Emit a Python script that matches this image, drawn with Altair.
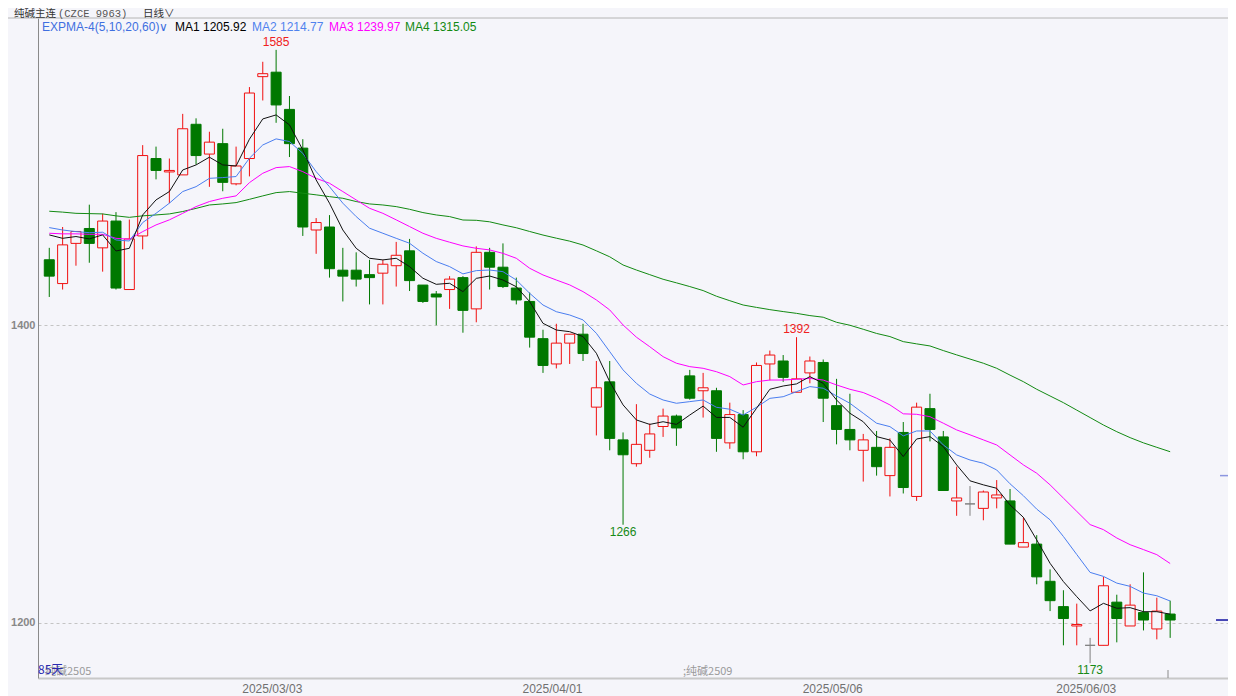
import altair as alt
import pandas as pd

# ---------------- data ----------------
opens = [1444, 1428, 1455, 1465, 1452, 1470, 1424, 1460, 1512, 1503,
         1501, 1535, 1515, 1522, 1495, 1512, 1567, 1570, 1545, 1519,
         1464, 1466, 1437, 1437, 1434, 1435, 1440, 1450, 1427, 1421,
         1424, 1432, 1411, 1449, 1439, 1425, 1416, 1391, 1374, 1388,
         1394, 1345, 1362, 1323, 1307, 1316, 1332, 1339, 1366, 1356,
         1356, 1321, 1340, 1315, 1374, 1376, 1355, 1368, 1375, 1346,
         1330, 1316, 1318, 1299, 1328, 1285, 1344, 1325, 1282, 1280,
         1277, 1284, 1282, 1251, 1253, 1228, 1211, 1198, 1185, 1185,
         1214, 1198, 1207, 1196, 1206]
highs = [1452, 1466, 1463, 1481, 1475, 1476, 1471, 1521, 1520, 1512,
         1542, 1539, 1530, 1532, 1520, 1560, 1577, 1585, 1554, 1525,
         1472, 1474, 1452, 1449, 1444, 1444, 1456, 1458, 1427, 1423,
         1433, 1433, 1453, 1452, 1455, 1432, 1422, 1397, 1401, 1394,
         1401, 1376, 1376, 1328, 1347, 1334, 1344, 1340, 1370, 1368,
         1358, 1348, 1343, 1375, 1383, 1380, 1392, 1379, 1377, 1364,
         1354, 1327, 1329, 1324, 1335, 1348, 1354, 1329, 1305, 1292,
         1289, 1296, 1290, 1271, 1259, 1236, 1222, 1213, 1190, 1231,
         1219, 1226, 1234, 1217, 1215]
lows = [1419, 1424, 1440, 1442, 1436, 1424, 1424, 1451, 1498, 1482,
        1501, 1508, 1493, 1490, 1494, 1500, 1551, 1536, 1513, 1460,
        1448, 1432, 1416, 1426, 1414, 1414, 1426, 1423, 1415, 1400,
        1411, 1395, 1402, 1424, 1425, 1414, 1385, 1368, 1371, 1374,
        1376, 1326, 1316, 1266, 1305, 1311, 1325, 1319, 1350, 1338,
        1315, 1317, 1310, 1312, 1363, 1362, 1355, 1361, 1335, 1320,
        1316, 1295, 1299, 1285, 1287, 1282, 1322, 1289, 1272, 1272,
        1269, 1277, 1253, 1251, 1226, 1208, 1185, 1185, 1173, 1185,
        1187, 1198, 1195, 1189, 1190]
closes = [1433, 1454, 1463, 1455, 1470, 1425, 1458, 1514, 1504, 1504,
          1532, 1514, 1523, 1496, 1507, 1556, 1569, 1548, 1522, 1466,
          1469, 1438, 1433, 1431, 1432, 1441, 1447, 1430, 1416, 1419,
          1431, 1410, 1449, 1439, 1426, 1417, 1392, 1373, 1388, 1394,
          1381, 1358, 1324, 1313, 1320, 1327, 1339, 1331, 1351, 1358,
          1324, 1340, 1315, 1373, 1380, 1365, 1364, 1376, 1351, 1330,
          1323, 1323, 1305, 1318, 1291, 1345, 1330, 1289, 1284, 1280,
          1288, 1286, 1253, 1254, 1231, 1215, 1203, 1199, 1185, 1225,
          1203, 1212, 1202, 1208, 1202]

ma1 = [1460.7, 1458.4, 1459.6, 1458.0, 1460.7, 1449.9, 1451.7, 1474.1, 1484.2, 1489.8,
       1504.3, 1507.7, 1512.9, 1507.7, 1507.0, 1525.0, 1538.6, 1541.3, 1534.6, 1517.8,
       1497.6, 1482.0, 1464.0, 1451.7, 1445.0, 1443.9, 1445.0, 1439.4, 1431.6, 1427.5,
       1428.2, 1422.6, 1431.5, 1433.1, 1430.4, 1425.9, 1415.9, 1401.3, 1396.8, 1395.7,
       1392.4, 1381.2, 1362.1, 1346.5, 1336.4, 1333.4, 1335.2, 1333.4, 1339.7, 1345.7,
       1338.1, 1338.1, 1331.5, 1344.2, 1357.0, 1359.2, 1360.6, 1365.5, 1361.0, 1349.8,
       1340.9, 1335.2, 1325.2, 1322.9, 1311.8, 1323.6, 1325.2, 1318.5, 1306.2, 1295.5,
       1292.8, 1290.5, 1279.3, 1271.0, 1255.8, 1240.1, 1227.8, 1217.7, 1208.1, 1213.2,
       1209.9, 1210.3, 1207.6, 1207.6, 1205.92]
ma2 = [1465.6, 1464.0, 1462.9, 1462.2, 1462.5, 1457.3, 1456.6, 1469.0, 1475.2, 1482.0,
       1489.8, 1493.1, 1498.7, 1499.2, 1499.9, 1512.2, 1521.1, 1525.2, 1523.4, 1515.5,
       1503.2, 1493.1, 1482.0, 1473.0, 1465.2, 1461.8, 1458.4, 1455.1, 1448.4, 1442.8,
       1439.4, 1434.5, 1436.7, 1437.1, 1436.0, 1430.4, 1421.5, 1413.6, 1409.1, 1406.9,
       1403.6, 1394.6, 1382.3, 1370.0, 1361.0, 1353.8, 1349.8, 1347.6, 1348.7, 1349.8,
       1344.9, 1343.6, 1339.7, 1344.9, 1350.9, 1352.0, 1355.4, 1358.8, 1357.7, 1352.5,
       1347.6, 1340.9, 1334.2, 1331.9, 1325.7, 1329.0, 1329.0, 1319.6, 1312.9, 1309.5,
       1307.3, 1302.8, 1293.5, 1285.5, 1276.5, 1269.3, 1258.1, 1246.0, 1234.0, 1231.3,
       1226.8, 1224.6, 1220.1, 1218.3, 1214.77]
ma3 = [1461.8, 1461.4, 1461.4, 1461.1, 1461.1, 1458.4, 1457.8, 1462.9, 1467.4, 1470.8,
       1475.2, 1479.7, 1483.1, 1485.3, 1486.9, 1495.8, 1502.1, 1505.9, 1506.6, 1503.2,
       1498.7, 1495.4, 1489.8, 1484.2, 1478.6, 1475.2, 1470.8, 1466.3, 1461.8, 1458.4,
       1455.8, 1453.3, 1451.7, 1450.6, 1448.3, 1445.0, 1438.3, 1433.8, 1430.4, 1427.1,
       1422.6, 1417.0, 1410.3, 1400.2, 1392.0, 1385.6, 1378.9, 1374.5, 1372.2, 1371.1,
       1368.8, 1365.5, 1359.9, 1362.1, 1363.2, 1363.2, 1363.7, 1364.3, 1363.2, 1359.9,
       1357.0, 1354.8, 1351.0, 1346.5, 1340.5, 1340.2, 1338.6, 1334.2, 1329.7, 1326.4,
       1323.0, 1319.6, 1312.9, 1306.2, 1300.6, 1292.8, 1283.9, 1275.0, 1266.1, 1262.7,
       1257.1, 1252.6, 1249.3, 1245.9, 1239.97]
ma4 = [1476.6, 1476.0, 1475.2, 1475.0, 1474.8, 1473.5, 1472.5, 1473.5, 1474.1, 1474.8,
       1476.4, 1478.5, 1480.8, 1481.5, 1482.4, 1484.6, 1486.9, 1489.1, 1489.8, 1488.7,
       1487.6, 1486.4, 1485.3, 1483.1, 1481.5, 1480.8, 1479.7, 1477.9, 1475.7, 1474.1,
       1473.0, 1470.7, 1470.5, 1469.5, 1467.4, 1465.5, 1463.0, 1460.6, 1458.5, 1456.5,
       1453.9, 1450.0, 1446.0, 1440.5, 1437.1, 1434.0, 1430.9, 1428.5, 1426.0, 1423.3,
       1419.5, 1416.5, 1413.6, 1412.0, 1410.5, 1409.2, 1408.0, 1406.5, 1405.4, 1402.0,
       1400.0, 1397.3, 1394.5, 1392.4, 1389.0, 1387.5, 1386.1, 1383.0, 1380.1, 1377.3,
       1374.5, 1371.1, 1366.5, 1362.1, 1357.0, 1352.5, 1348.0, 1343.0, 1338.0, 1333.0,
       1328.5, 1324.5, 1321.0, 1318.0, 1315.05]

date_ticks = [16, 37, 58, 77]
date_labels = ["2025/03/03", "2025/04/01", "2025/05/06", "2025/06/03"]
y_ticks = [1200, 1400]

ann_idx = [17, 56, 43, 78]
ann_val = [1585, 1392, 1266, 1173]
ann_kind = ["high", "high", "low", "low"]

marker_val = [1299]

# ---------------- styling ----------------
BG = "#f5f5fa"
RED = "#f01010"
GREEN = "#007800"
DOJI = "#808080"
C_MA1, C_MA2, C_MA3, C_MA4 = "#101010", "#4a7ef0", "#ff00ff", "#128a12"
FONT = "Liberation Sans"
CJK = "Noto Sans CJK SC"

W, H = 1190, 660
XDOM = [-0.47, 87.96]
YDOM = [1163.05, 1606.4]

xs = alt.Scale(domain=XDOM, nice=False, zero=False)
ys = alt.Scale(domain=YDOM, nice=False, zero=False)

n = len(opens)
df = pd.DataFrame({"i": list(range(n)), "open": opens, "high": highs,
                   "low": lows, "close": closes})
df["dir"] = ["up" if c > o else ("down" if c < o else "flat")
             for o, c in zip(opens, closes)]

dir_dom = ["up", "down", "flat"]

label_expr = " : ".join(
    f"datum.value == {t} ? '{l}'" for t, l in zip(date_ticks, date_labels)
) + " : ''"

x_axis = alt.Axis(values=date_ticks, labelExpr=label_expr, ticks=False, grid=False,
                  domainColor="#c8c8c8", domainWidth=2, labelColor="#707070",
                  labelFontSize=12, labelFont=FONT, labelPadding=5, labelOffset=9,
                  title=None, labelFlush=False)
y_axis = alt.Axis(values=y_ticks, format="d", ticks=False, grid=True, gridDash=[3, 3],
                  gridColor="#c4c4c4", domainColor="#8a8a8a", labelColor="#888888",
                  labelFontSize=11, labelFont=FONT, labelFontWeight="bold",
                  labelPadding=3, title=None)


def X(field="i"):
    return alt.X(f"{field}:Q", scale=xs, axis=x_axis)


def Y(field):
    return alt.Y(f"{field}:Q", scale=ys, axis=y_axis)


base = alt.Chart(df)

wicks = base.mark_rule(strokeWidth=1).encode(
    x=X(), y=Y("low"), y2="high:Q",
    color=alt.Color("dir:N", scale=alt.Scale(domain=dir_dom, range=[RED, GREEN, DOJI]),
                    legend=None),
)

bodies = base.mark_bar(size=10, strokeWidth=1).encode(
    x=X(), y=Y("open"), y2="close:Q",
    fill=alt.Fill("dir:N", scale=alt.Scale(domain=dir_dom, range=[BG, GREEN, DOJI]),
                  legend=None),
    stroke=alt.Stroke("dir:N", scale=alt.Scale(domain=dir_dom, range=[RED, GREEN, DOJI]),
                      legend=None),
)


def ma_line(values, color):
    d = pd.DataFrame({"i": list(range(len(values))), "v": values})
    return alt.Chart(d).mark_line(strokeWidth=1, color=color).encode(x=X(), y=Y("v"))


lines = [ma_line(ma4, C_MA4), ma_line(ma3, C_MA3), ma_line(ma2, C_MA2), ma_line(ma1, C_MA1)]

ann = pd.DataFrame({"i": ann_idx, "v": ann_val, "k": ann_kind,
                    "t": [str(v) for v in ann_val]})
ann_hi = alt.Chart(ann).transform_filter("datum.k == 'high'").mark_text(
    baseline="bottom", dy=-1, color="#f02020", fontSize=12, font=FONT).encode(
    x=X(), y=Y("v"), text="t:N")
ann_lo = alt.Chart(ann).transform_filter("datum.k == 'low'").mark_text(
    baseline="top", dy=2, color="#168a16", fontSize=12, font=FONT).encode(
    x=X(), y=Y("v"), text="t:N")


def label(text, x, y, color, size=12, font=FONT, align="left", baseline="middle"):
    return alt.Chart(pd.DataFrame({"t": [text]})).mark_text(
        align=align, baseline=baseline, color=color, fontSize=size, font=font
    ).encode(text="t:N", x=alt.value(x), y=alt.value(y))


def rule(x1, x2, y1, y2, color, width=1):
    return alt.Chart(pd.DataFrame({"a": [0]})).mark_rule(color=color, strokeWidth=width).encode(
        x=alt.value(x1), x2=alt.value(x2), y=alt.value(y1), y2=alt.value(y2))


decor = [
    rule(-30, W, 0, 0, "#b4b4b4"),
    label("纯碱主连", -24, -4, "#333333", size=10.5, font=CJK),
    label("(CZCE 9963)", 20, -4, "#555555", size=10.5, font="Liberation Mono"),
    label("日线∨", 105, -4, "#333333", size=10.5, font=CJK),
    label("EXPMA-4(5,10,20,60)∨", 4, 8.5, "#3f6fe0", size=12),
    label(f"MA1 {ma1[-1]:.2f}", 137, 8.5, "#000000", size=12),
    label(f"MA2 {ma2[-1]:.2f}", 214, 8.5, "#4f82ee", size=12),
    label(f"MA3 {ma3[-1]:.2f}", 291, 8.5, "#ff00ff", size=12),
    label(f"MA4 {ma4[-1]:.2f}", 367, 8.5, "#128a12", size=12),
    label("纯碱2505", 7, 654, "#9a9a9a", size=11, font=CJK),
    label("85天", 0, 652, "#2a2ab0", size=12, font=CJK),
    label(";纯碱2509", 645, 654, "#9a9a9a", size=11, font=CJK),
    rule(1130, 1130, 652, 660, "#8a8a8a"),
]

last_df = pd.DataFrame({"v": [closes[-1]]})
last_mark = alt.Chart(last_df).mark_rule(color="#1010a0", strokeWidth=1.5).encode(
    y=Y("v"), x=alt.value(1178), x2=alt.value(W))
mk_df = pd.DataFrame({"v": marker_val})
mk_mark = alt.Chart(mk_df).mark_rule(color="#8c96e0", strokeWidth=1.5).encode(
    y=Y("v"), x=alt.value(1182), x2=alt.value(W))

chart = alt.layer(
    wicks, bodies, *lines, ann_hi, ann_lo, last_mark, mk_mark, *decor
).properties(
    width=W, height=H,
    padding={"left": 30, "top": 10, "right": 0, "bottom": 20},
    autosize=alt.AutoSizeParams(type="none"),
    background=BG,
).configure_view(stroke=None)

chart.save("out.html", embed_options={"renderer": "svg", "actions": False})
